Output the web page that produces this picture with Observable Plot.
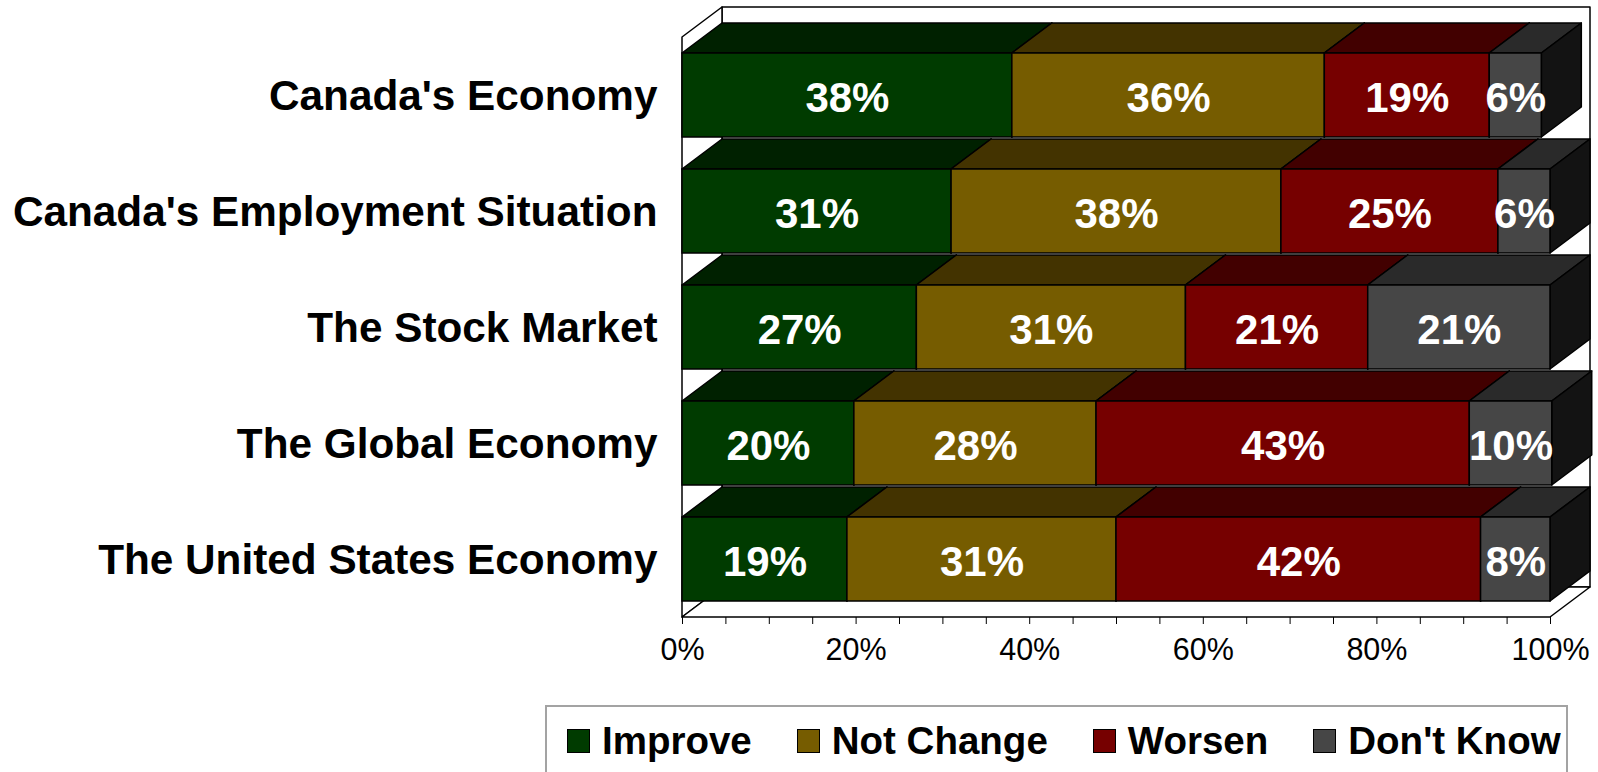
<!DOCTYPE html>
<html>
<head>
<meta charset="utf-8">
<script src="https://cdn.jsdelivr.net/npm/d3@7"></script>
<script src="https://cdn.jsdelivr.net/npm/@observablehq/plot@0.6"></script>
<style>
  html, body { margin: 0; padding: 0; background: #ffffff; }
  body { width: 1598px; height: 772px; overflow: hidden; position: relative;
         font-family: "Liberation Sans", Arial, sans-serif; }
  #chart { position: absolute; left: 0; top: 0; }
  #legend { position: absolute; left: 545px; top: 705px; width: 1023px; height: 110px;
            box-sizing: border-box; border: 2px solid #a3a3a3; background: #fff;
            padding: 15px 0 0 20px; display: flex; align-items: flex-start; white-space: nowrap; }
  .item { display: flex; align-items: center; margin-right: 45px; flex: none; }
  .sw { width: 21px; height: 22px; border: 1.5px solid #000; flex: none; }
  .lab { margin-left: 12px; font-size: 38.5px; font-weight: bold; line-height: 38px; color: #000; white-space: nowrap; }
</style>
</head>
<body>
<div id="chart"></div>
<div id="legend"></div>
<script>
// ---- data ----
const categories = ["Canada's Economy", "Canada's Employment Situation", "The Stock Market", "The Global Economy", "The United States Economy"];
const responses = ["Improve", "Not Change", "Worsen", "Don't Know"];
const improve   = [38, 31, 27, 19.8, 19];
const notChange = [36, 38, 31, 27.9, 31];
const worsen    = [19, 25, 21, 43,   42];
const dontKnow  = [6,  6,  21, 9.5,  8];
const tickValues = [0, 5, 10, 15, 20, 25, 30, 35, 40, 45, 50, 55, 60, 65, 70, 75, 80, 85, 90, 95, 100];
const tickLabels = ["0%", "", "", "", "20%", "", "", "", "40%", "", "", "", "60%", "", "", "", "80%", "", "", "", "100%"];

// ---- styles ----
const frontColors = ["#003b00", "#765c00", "#760000", "#464646"];
const topColors   = ["#002100", "#433300", "#420000", "#2a2a2a"];
const sideColors  = ["#001400", "#2a2000", "#2a0000", "#131313"];
const DX = 40, DY = 30;

// ---- table ----
const series = [improve, notChange, worsen, dontKnow];
const table = [];
categories.forEach((c, i) => {
  let acc = 0;
  responses.forEach((r, j) => {
    const v = series[j][i];
    table.push({category: c, response: r, k: j, value: v, x1: acc, x2: acc + v, label: d3.format(".0f")(v) + "%"});
    acc += v;
  });
});
const tickLabelMap = new Map(tickValues.map((t, i) => [t, tickLabels[i]]));

function pts(arr) { return arr.map(p => p.join(",")).join(" "); }

// walls (back, left, floor) drawn through the x scale and the frame
const walls = (index, scales, values, dimensions) => {
  const {height, marginTop, marginBottom} = dimensions;
  const L = scales.x(0), R = scales.x(100), T = marginTop, B = height - marginBottom;
  const g = d3.create("svg:g").attr("stroke", "#000").attr("stroke-width", 1.5).attr("fill", "#fff").attr("stroke-linejoin", "round");
  g.append("polygon").attr("points", pts([[L + DX, T - DY], [R + DX, T - DY], [R + DX, B - DY], [L + DX, B - DY]]));
  g.append("polygon").attr("points", pts([[L, T], [L + DX, T - DY], [L + DX, B - DY], [L, B]]));
  g.append("polygon").attr("points", pts([[L, B], [R, B], [R + DX, B - DY], [L + DX, B - DY]]));
  return g.node();
};

// top and side faces of each stacked segment
const faces = (index, scales, values, dimensions) => {
  const x = scales.x, y = scales.y;
  const bw = y.bandwidth ? y.bandwidth() : scales.scales.y.bandwidth;
  const g = d3.create("svg:g").attr("stroke", "#000").attr("stroke-width", 1.5).attr("stroke-linejoin", "round");
  for (const d of table) {
    const a = x(d.x1), b = x(d.x2), t = y(d.category);
    g.append("polygon").attr("fill", topColors[d.k])
      .attr("points", pts([[a, t], [b, t], [b + DX, t - DY], [a + DX, t - DY]]));
    g.append("polygon").attr("fill", sideColors[d.k])
      .attr("points", pts([[b, t], [b + DX, t - DY], [b + DX, t + bw - DY], [b, t + bw]]));
  }
  return g.node();
};

const chart = Plot.plot({
  width: 1598,
  height: 700,
  marginLeft: 682,
  marginRight: 48,
  marginTop: 37,
  marginBottom: 83,
  style: {fontFamily: "'Liberation Sans', Arial, sans-serif", fontSize: "30.5px", color: "#000", background: "transparent"},
  x: {domain: [0, 100], ticks: tickValues, tickFormat: d => tickLabelMap.get(d), tickSize: 7, tickPadding: 14, label: null},
  y: {domain: categories, paddingInner: 0.278, paddingOuter: 0.13, axis: null},
  color: {domain: responses, range: frontColors},
  marks: [
    walls,
    faces,
    Plot.rect(table, {x1: "x1", x2: "x2", y: "category", fill: "response", stroke: "#000", strokeWidth: 1.5}),
    Plot.text(table, {x: d => (d.x1 + d.x2) / 2, y: "category", text: "label", fill: "#fff", fontSize: 42, fontWeight: "bold", dy: 3}),
    Plot.text(categories, {x: 0, y: d => d, text: d => d, textAnchor: "end", dx: -25, dy: 1, fontSize: 42.3, fontWeight: "bold", fill: "#000"})
  ]
});
document.getElementById("chart").appendChild(chart);

// legend
const legend = d3.select("#legend");
responses.forEach((r, i) => {
  const it = legend.append("div").attr("class", "item");
  it.append("div").attr("class", "sw").style("background", frontColors[i]);
  it.append("div").attr("class", "lab").text(r);
});
</script>
</body>
</html>
